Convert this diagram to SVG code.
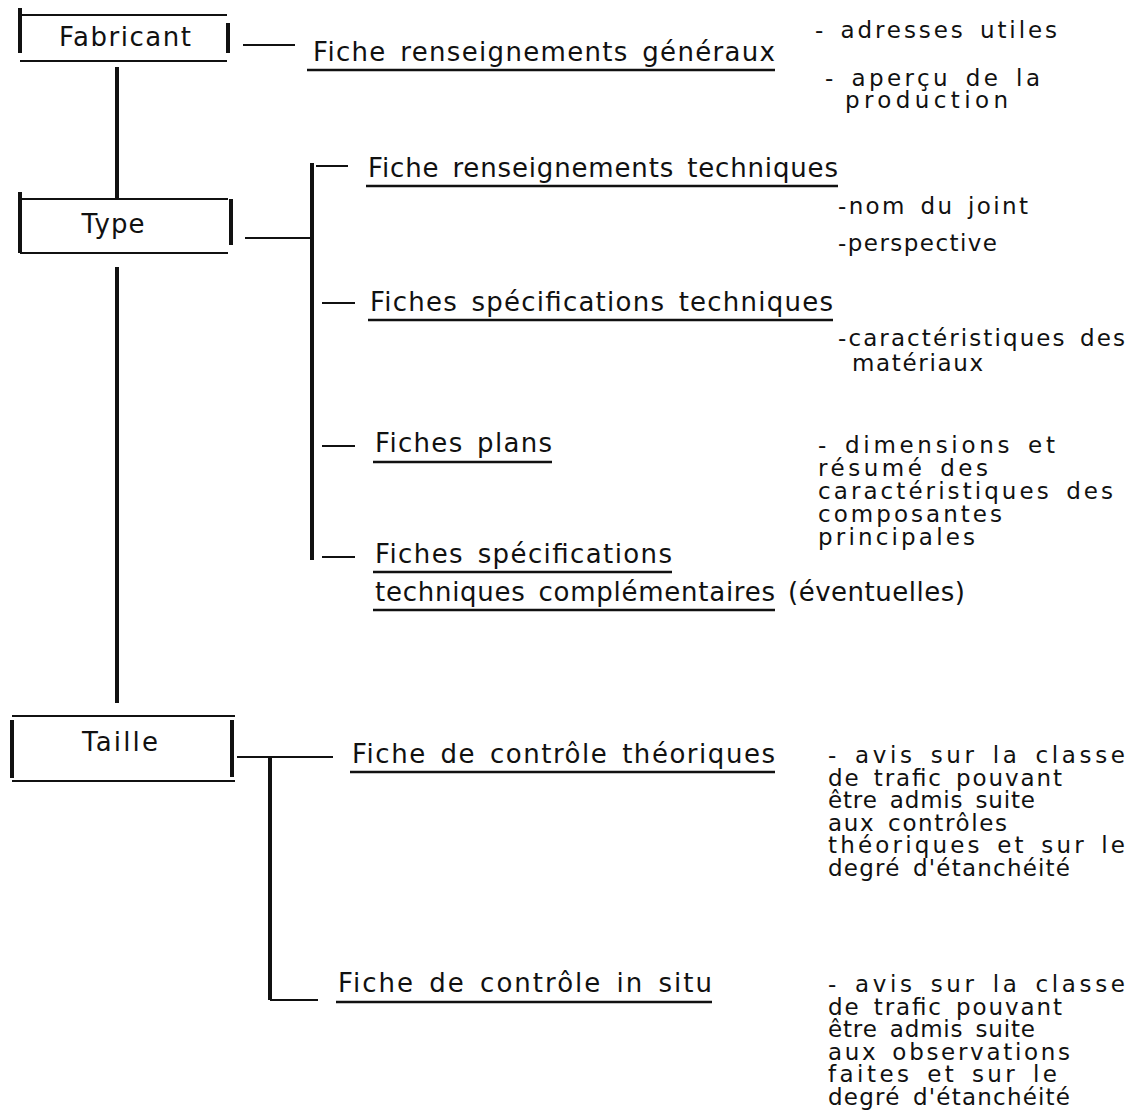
<svg xmlns="http://www.w3.org/2000/svg" width="1131" height="1114" viewBox="0 0 1131 1114">
<style>
text{font-family:"DejaVu Sans","Noto Sans",sans-serif;font-size:26px;fill:#111;word-spacing:4px}
.sm{font-size:23px}
.box{stroke:#111;stroke-width:2.2;fill:none}
.bar{stroke:#111;stroke-width:4;fill:none}
.ln{stroke:#111;stroke-width:2.2;fill:none}
.vl{stroke:#111;stroke-width:4;fill:none}
.ul{stroke:#111;stroke-width:2.6;fill:none}
</style>
<rect width="1131" height="1114" fill="#fff"/>
<g id="connectors">
<path class="ln" d="M243,45 H295"/>
<path class="vl" d="M117,67 V200"/>
<path class="ln" d="M245,238 H312"/>
<path class="vl" d="M312,163 V560"/>
<path class="ln" d="M316,166 H348 M322,303 H355 M322,446 H355 M322,557 H355"/>
<path class="vl" d="M117,267 V703"/>
<path class="ln" d="M237,757 H333"/>
<path class="vl" d="M270,757 V1000"/>
<path class="ln" d="M270,1000 H318"/>
</g>
<g id="fabricant">
<path class="box" d="M20,15 H227 M20,61 H227"/>
<path class="bar" d="M20,8 V53 M228,23 V53"/>
<text x="125" y="46" text-anchor="middle" textLength="132" lengthAdjust="spacing">Fabricant</text>
</g>
<g id="type">
<path class="box" d="M20,199 H228 M20,253 H228"/>
<path class="bar" d="M20,192 V253 M231,199 V245"/>
<text x="113" y="233" text-anchor="middle" textLength="63" lengthAdjust="spacing">Type</text>
</g>
<g id="taille">
<path class="box" d="M12,716 H235 M12,781 H235"/>
<path class="bar" d="M12,720 V778 M232,720 V777"/>
<text x="120" y="751" text-anchor="middle" textLength="76" lengthAdjust="spacing">Taille</text>
</g>
<g id="fiche-generaux">
<text x="313" y="61" textLength="462" lengthAdjust="spacing">Fiche renseignements généraux</text>
<path class="ul" d="M307,70 H775"/>
<text class="sm" x="815" y="38" textLength="242" lengthAdjust="spacing">- adresses utiles</text>
<text class="sm" x="825" y="86" textLength="215" lengthAdjust="spacing">- aperçu de la</text>
<text class="sm" x="845" y="108" textLength="163" lengthAdjust="spacing">production</text>
</g>
<g id="fiche-techniques">
<text x="368" y="177" textLength="470" lengthAdjust="spacing">Fiche renseignements techniques</text>
<path class="ul" d="M366,186 H838"/>
<text class="sm" x="838" y="214" textLength="190" lengthAdjust="spacing">-nom du joint</text>
<text class="sm" x="838" y="251" textLength="159" lengthAdjust="spacing">-perspective</text>
</g>
<g id="fiches-specifications">
<text x="370" y="311" textLength="463" lengthAdjust="spacing">Fiches spécifications techniques</text>
<path class="ul" d="M368,320 H833"/>
<text class="sm" x="838" y="346" textLength="287" lengthAdjust="spacing">-caractéristiques des</text>
<text class="sm" x="852" y="371" textLength="131" lengthAdjust="spacing">matériaux</text>
</g>
<g id="fiches-plans">
<text x="375" y="452" textLength="177" lengthAdjust="spacing">Fiches plans</text>
<path class="ul" d="M373,462 H552"/>
<text class="sm" x="818" y="453" textLength="237" lengthAdjust="spacing">- dimensions et</text>
<text class="sm" x="818" y="476" textLength="170" lengthAdjust="spacing">résumé des</text>
<text class="sm" x="818" y="499" textLength="295" lengthAdjust="spacing">caractéristiques des</text>
<text class="sm" x="818" y="522" textLength="184" lengthAdjust="spacing">composantes</text>
<text class="sm" x="818" y="545" textLength="157" lengthAdjust="spacing">principales</text>
</g>
<g id="fiches-complementaires">
<text x="375" y="563" textLength="297" lengthAdjust="spacing">Fiches spécifications</text>
<path class="ul" d="M373,572 H672"/>
<text x="375" y="601" textLength="400" lengthAdjust="spacing">techniques complémentaires</text>
<path class="ul" d="M373,610 H775"/>
<text x="788" y="601" textLength="177" lengthAdjust="spacing">(éventuelles)</text>
</g>
<g id="fiche-controle-theoriques">
<text x="352" y="763" textLength="423" lengthAdjust="spacing">Fiche de contrôle théoriques</text>
<path class="ul" d="M350,772 H775"/>
<text class="sm" x="828" y="763" textLength="297" lengthAdjust="spacing">- avis sur la classe</text>
<text class="sm" x="828" y="785.5" textLength="234" lengthAdjust="spacing">de trafic pouvant</text>
<text class="sm" x="828" y="808" textLength="207" lengthAdjust="spacing">être admis suite</text>
<text class="sm" x="828" y="830.5" textLength="179" lengthAdjust="spacing">aux contrôles</text>
<text class="sm" x="828" y="853" textLength="297" lengthAdjust="spacing">théoriques et sur le</text>
<text class="sm" x="828" y="875.5" textLength="242" lengthAdjust="spacing">degré d'étanchéité</text>
</g>
<g id="fiche-controle-in-situ">
<text x="338" y="992" textLength="374" lengthAdjust="spacing">Fiche de contrôle in situ</text>
<path class="ul" d="M336,1002 H712"/>
<text class="sm" x="828" y="992" textLength="297" lengthAdjust="spacing">- avis sur la classe</text>
<text class="sm" x="828" y="1014.5" textLength="234" lengthAdjust="spacing">de trafic pouvant</text>
<text class="sm" x="828" y="1037" textLength="207" lengthAdjust="spacing">être admis suite</text>
<text class="sm" x="828" y="1059.5" textLength="242" lengthAdjust="spacing">aux observations</text>
<text class="sm" x="828" y="1082" textLength="229" lengthAdjust="spacing">faites et sur le</text>
<text class="sm" x="828" y="1104.5" textLength="242" lengthAdjust="spacing">degré d'étanchéité</text>
</g>
</svg>
